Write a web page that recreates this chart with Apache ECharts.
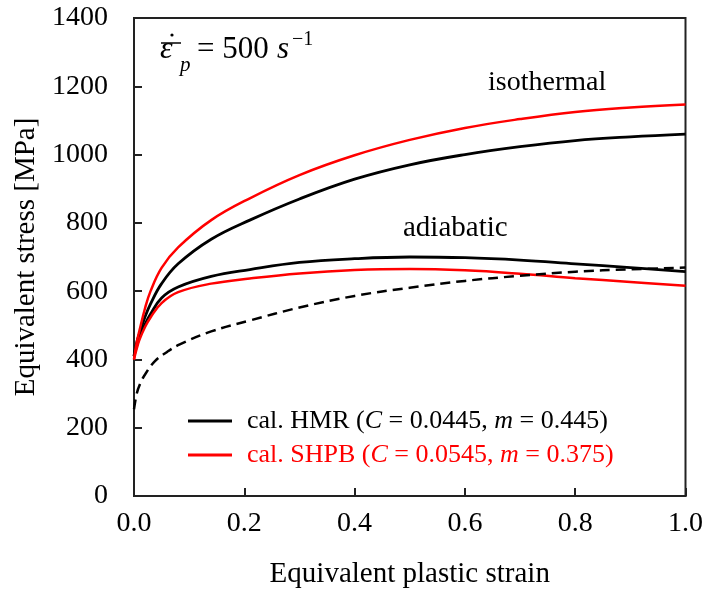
<!DOCTYPE html>
<html>
<head>
<meta charset="utf-8">
<script src="https://cdn.jsdelivr.net/npm/echarts@6/dist/echarts.min.js"></script>
<style>
html, body { margin: 0; padding: 0; background: #fff; }
#chart { width: 706px; height: 594px; }
</style>
</head>
<body>
<div id="chart"></div>
<script>
// strain points
var strain = [0, 0.005, 0.01, 0.02, 0.03, 0.05, 0.08, 0.14, 0.21, 0.3, 0.4, 0.5, 0.6, 0.7, 0.8, 0.9, 1.0];
var hmrIso   = [410, 450, 476, 525, 563, 622, 680, 752, 808, 870, 928, 970, 1000, 1023, 1041, 1052, 1060];
var shpbIso  = [400, 450, 485, 550, 600, 668, 728, 808, 872, 940, 998, 1043, 1078, 1104, 1125, 1138, 1147];
var hmrAdi   = [410, 440, 465, 503, 533, 580, 612, 643, 663, 684, 695, 700, 698, 691, 680, 669, 657];
var shpbAdi  = [400, 432, 458, 495, 523, 565, 597, 622, 637, 652, 662, 665, 661, 651, 638, 627, 616];
var dashStrain = [0, 0.005, 0.011, 0.02, 0.038, 0.06, 0.083, 0.14, 0.21, 0.3, 0.4, 0.5, 0.6, 0.7, 0.8, 0.9, 1.0];
var dashed     = [254, 300, 328, 356, 395, 422, 444, 482, 514, 552, 586, 610, 630, 645, 657, 664, 669];

function pairs(xs, ys) {
	var out = [];
	for (var i = 0; i < xs.length; i++) {
		out.push([xs[i], ys[i]]);
	}
	return out;
}

var serif = 'Liberation Serif';
var myChart = echarts.init(document.getElementById('chart'));

function legendRich(color) {
	return {
		t: { fontFamily: serif, fontSize: 26, color: color },
		i: { fontFamily: serif, fontSize: 26, color: color, fontStyle: 'italic' }
	};
}

function curve(name, xs, ys, color, width, dash) {
	return {
		name: name, type: 'line', smooth: 0.4, showSymbol: false,
		data: pairs(xs, ys),
		itemStyle: { color: color },
		lineStyle: { color: color, width: width, type: dash || 'solid' }
	};
}

var option = {
	animation: false,
	backgroundColor: '#fff',
	grid: {
		left: 134, right: 18, top: 18, bottom: 95,
		show: true, borderColor: '#222', borderWidth: 2
	},
	xAxis: {
		type: 'value', min: 0, max: 1, interval: 0.2,
		name: 'Equivalent plastic strain',
		nameLocation: 'middle', nameGap: 64,
		nameTextStyle: { fontFamily: serif, fontSize: 29, color: '#000' },
		axisLine: { show: true, lineStyle: { color: '#222', width: 2 } },
		axisTick: { show: true, inside: true, length: 8, lineStyle: { color: '#222', width: 2 } },
		axisLabel: {
			margin: 14, fontFamily: serif, fontSize: 28, color: '#000',
			formatter: function (v) { return v.toFixed(1); }
		},
		splitLine: { show: false }
	},
	yAxis: {
		type: 'value', min: 0, max: 1400, interval: 200,
		name: 'Equivalent stress [MPa]',
		nameLocation: 'middle', nameGap: 80,
		nameTextStyle: { fontFamily: serif, fontSize: 29, color: '#000' },
		axisLine: { show: true, lineStyle: { color: '#222', width: 2 } },
		axisTick: { show: true, inside: true, length: 8, lineStyle: { color: '#222', width: 2 } },
		axisLabel: {
			margin: 26, fontFamily: serif, fontSize: 28, color: '#000',
			formatter: function (v) { return String(v); }
		},
		splitLine: { show: false }
	},
	legend: [
		{
			data: ['HMR'], left: 188, top: 408, padding: 0,
			icon: 'rect', itemWidth: 44, itemHeight: 3, itemGap: 0,
			formatter: function () { return '{t|cal. HMR (}{i|C}{t| = 0.0445, }{i|m}{t| = 0.445)}'; },
			textStyle: { padding: [0, 0, 0, 10], rich: legendRich('#000') }
		},
		{
			data: ['SHPB'], left: 188, top: 442, padding: 0,
			icon: 'rect', itemWidth: 44, itemHeight: 3, itemGap: 0,
			formatter: function () { return '{t|cal. SHPB (}{i|C}{t| = 0.0545, }{i|m}{t| = 0.375)}'; },
			textStyle: { padding: [0, 0, 0, 10], rich: legendRich('#ff0000') }
		}
	],
	graphic: [
		{ type: 'text', left: 488, top: 69, style: { text: 'isothermal', font: '28px "Liberation Serif"', fill: '#000' } },
		{ type: 'text', left: 403, top: 214, style: { text: 'adiabatic', font: '29px "Liberation Serif"', fill: '#000' } },
		// title: strain-rate annotation
		{ type: 'text', left: 160, top: 34, style: { text: 'ε', font: 'italic 32px "Liberation Serif"', fill: '#000' } },
		{ type: 'line', shape: { x1: 161, y1: 43, x2: 181, y2: 43 }, style: { stroke: '#000', lineWidth: 1.5 } },
		{ type: 'circle', shape: { cx: 172, cy: 35, r: 1.6 }, style: { fill: '#000' } },
		{ type: 'text', left: 180, top: 55, style: { text: 'p', font: 'italic 21px "Liberation Serif"', fill: '#000' } },
		{ type: 'text', left: 197, top: 34, style: { text: '= 500', font: '31px "Liberation Serif"', fill: '#000' } },
		{ type: 'text', left: 277, top: 34, style: { text: 's', font: 'italic 31px "Liberation Serif"', fill: '#000' } },
		{ type: 'text', left: 292, top: 30, style: { text: '−1', font: '20px "Liberation Serif"', fill: '#000' } }
	],
	series: [
		curve('HMR', strain, hmrIso, '#000', 2.8),
		curve('HMR', strain, hmrAdi, '#000', 2.8),
		curve('SHPB', strain, shpbIso, '#ff0000', 2.5),
		curve('SHPB', strain, shpbAdi, '#ff0000', 2.5),
		curve('adiabatic temperature', dashStrain, dashed, '#000', 2.5, [10, 6])
	]
};

if (option && typeof option === "object") {
	myChart.setOption(option, true);
}
</script>
</body>
</html>
